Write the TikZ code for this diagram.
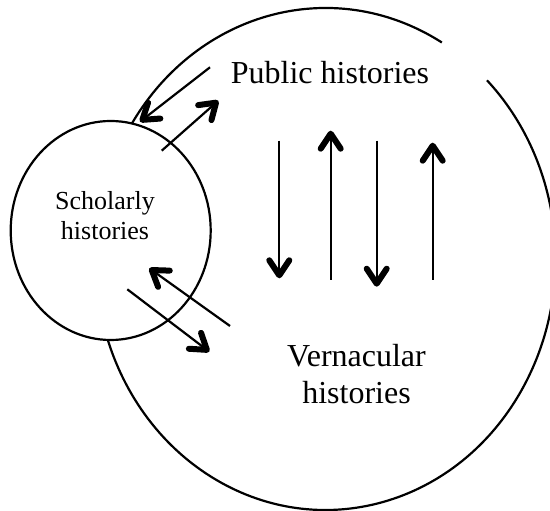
\documentclass[tikz,border=0pt]{standalone}
\usepackage{fontspec}
\setmainfont{Liberation Serif}
\usetikzlibrary{arrows.meta,shapes.geometric}
\begin{document}
\begin{tikzpicture}[x=1pt,y=1pt,
  outline/.style={line width=2.2pt},
  flow/.style={line width=2.2pt,-{Straight Barb[length=15pt,width=20pt,line width=6pt 0,round]}},
  bigtext/.style={font=\fontsize{32}{37.3}\selectfont,inner sep=0pt,align=center},
  smalltext/.style={font=\fontsize{26}{29.3}\selectfont,inner sep=0pt,align=center}]
\useasboundingbox (0,0) rectangle (550,511);
\fill[white] (0,0) rectangle (550,511);
% vernacular histories: large ellipse (clipped at the right edge, gap behind the title box)
\coordinate (vc) at (325.5,252);
\begin{scope}
\clip (0,0) rectangle (550,511);
\draw[outline] (vc) ++(59.6:230pt and 251pt) arc[start angle=59.6,end angle=405.4,x radius=230pt,y radius=251pt];
\end{scope}
% scholarly histories: small circle
\node[outline,draw,fill=white,ellipse,minimum width=200pt,minimum height=219pt,inner sep=0pt] (scholarly) at (110.7,280.5) {};
% labels
\node[bigtext,anchor=base] (public) at (330,427.7) {Public histories};
\node[smalltext,anchor=base] (scholtext) at (105,271.7) {Scholarly\\histories};
\node[bigtext,anchor=base] (verntext) at (356.5,107) {Vernacular\\histories};
% arrow end points
\coordinate (a1) at (210,443.7);   \coordinate (a2) at (140,389.3);
\coordinate (b1) at (161.7,360.3); \coordinate (b2) at (218.3,410.3);
\coordinate (c1) at (230,185);     \coordinate (c2) at (149.3,242.7);
\coordinate (d1) at (127.3,221.7); \coordinate (d2) at (209.3,159.3);
\coordinate (v1s) at (279.3,370.3); \coordinate (v1e) at (279.3,232.7);
\coordinate (v2s) at (330.7,231);   \coordinate (v2e) at (330.7,380.3);
\coordinate (v3s) at (376.7,370.3); \coordinate (v3e) at (376.7,224.3);
\coordinate (v4s) at (432.7,231);   \coordinate (v4e) at (432.7,368.3);
% arrows
\draw[flow] (a1) -- (a2);
\draw[flow] (b1) -- (b2);
\draw[flow] (c1) -- (c2);
\draw[flow] (d1) -- (d2);
\draw[flow] (v1s) -- (v1e);
\draw[flow] (v2s) -- (v2e);
\draw[flow] (v3s) -- (v3e);
\draw[flow] (v4s) -- (v4e);
\end{tikzpicture}
\end{document}
